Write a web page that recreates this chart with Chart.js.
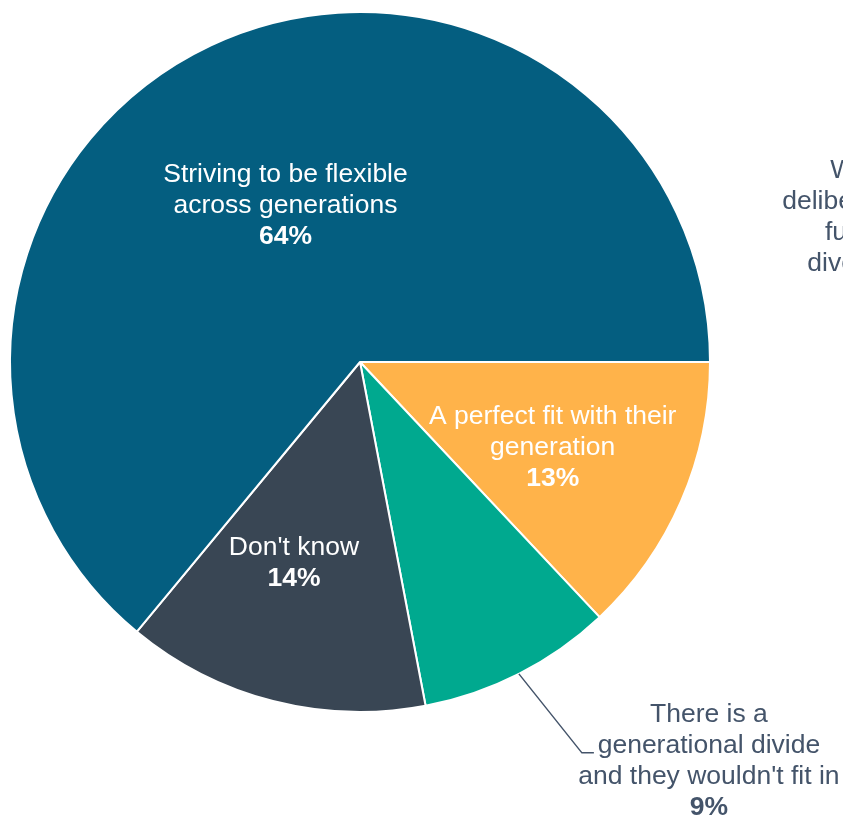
<!DOCTYPE html>
<html>
<head>
<meta charset="utf-8">
<title>Generational fit</title>
<script src="https://cdn.jsdelivr.net/npm/chart.js@4/dist/chart.umd.min.js"></script>
<style>
  html, body { margin: 0; padding: 0; background: #ffffff; }
  #wrap { width: 843px; height: 815px; overflow: hidden; }
  canvas { display: block; }
</style>
</head>
<body>
<div id="wrap"><canvas id="pie" width="843" height="815"></canvas></div>
<script>
// Categories (each wrapped onto the lines it is printed on)
const categories = [
  ['A perfect fit with their', 'generation'],
  ['There is a', 'generational divide', "and they wouldn't fit in"],
  ["Don't know"],
  ['Striving to be flexible', 'across generations'],
  ['We', 'deliberately', 'fuse', 'diverse']
];
// Share of respondents, %
const shares = [13, 9, 14, 64, 0];
// Whether the share is printed under the category name
const showShare = [true, true, true, true, false];

const sliceColors = ['#FFB34A', '#00A98F', '#394654', '#045E80', '#045E80'];
const textOnSlice = '#FFFFFF';
const textOutside = '#44546A';

// Where each label sits: inside the slice, or as a callout beside it
const labelPlacement = [
  { inside: true, frac: 0.60, shift: 0 },
  { inside: false, elbow: [63, 79], tail: 12, text: [127, 6], leader: true },
  { inside: true, frac: 0.598, shift: 4 },
  { inside: true, frac: 0.50, shift: 0 },
  { inside: false, text: [140, -146.5], leader: false }
];

const FONT_SIZE = 26.5;
const LINE_H = 31;
const FAMILY = '"Liberation Sans", Arial, Helvetica, sans-serif';

function drawBlock(ctx, lines, boldLast, cx, cy, color) {
  const capMid = FONT_SIZE * 0.716 / 2;
  const n = lines.length;
  ctx.save();
  ctx.fillStyle = color;
  ctx.textAlign = 'center';
  ctx.textBaseline = 'alphabetic';
  lines.forEach((t, i) => {
    const bold = boldLast && i === n - 1;
    ctx.font = (bold ? 'bold ' : '') + FONT_SIZE + 'px ' + FAMILY;
    const y = cy - (n - 1) * LINE_H / 2 + i * LINE_H + capMid;
    ctx.fillText(t, cx, y);
  });
  ctx.restore();
}

const sliceLabels = {
  id: 'sliceLabels',
  afterDatasetsDraw(chart) {
    const ctx = chart.ctx;
    const meta = chart.getDatasetMeta(0);
    meta.data.forEach((arc, i) => {
      const p = arc.getProps(['x', 'y', 'startAngle', 'endAngle', 'outerRadius'], true);
      const place = labelPlacement[i];
      const mid = (p.startAngle + p.endAngle) / 2;
      const lines = categories[i].slice();
      if (showShare[i]) lines.push(shares[i] + '%');
      if (place.inside) {
        const a = mid + place.shift * Math.PI / 180;
        const r = p.outerRadius * place.frac;
        drawBlock(ctx, lines, showShare[i], p.x + Math.cos(a) * r, p.y + Math.sin(a) * r, textOnSlice);
      } else {
        const ex = p.x + Math.cos(mid) * p.outerRadius;
        const ey = p.y + Math.sin(mid) * p.outerRadius;
        if (place.leader) {
          const bx = ex + place.elbow[0];
          const by = ey + place.elbow[1];
          ctx.save();
          ctx.strokeStyle = textOutside;
          ctx.lineWidth = 1.5;
          ctx.beginPath();
          ctx.moveTo(ex, ey);
          ctx.lineTo(bx, by);
          ctx.lineTo(bx + place.tail, by);
          ctx.stroke();
          ctx.restore();
          drawBlock(ctx, lines, showShare[i], bx + place.text[0], by + place.text[1], textOutside);
        } else {
          drawBlock(ctx, lines, showShare[i], ex + place.text[0], ey + place.text[1], textOutside);
        }
      }
    });
  }
};

new Chart(document.getElementById('pie'), {
  type: 'pie',
  data: {
    labels: categories,
    datasets: [{
      data: shares,
      backgroundColor: sliceColors,
      borderColor: '#FFFFFF',
      borderWidth: 2
    }]
  },
  options: {
    responsive: false,
    animation: false,
    rotation: 90,
    radius: 350,
    layout: { padding: { left: 10, top: 12, right: 133, bottom: 103 } },
    plugins: {
      legend: { display: false },
      tooltip: { enabled: false }
    }
  },
  plugins: [sliceLabels]
});
</script>
</body>
</html>
